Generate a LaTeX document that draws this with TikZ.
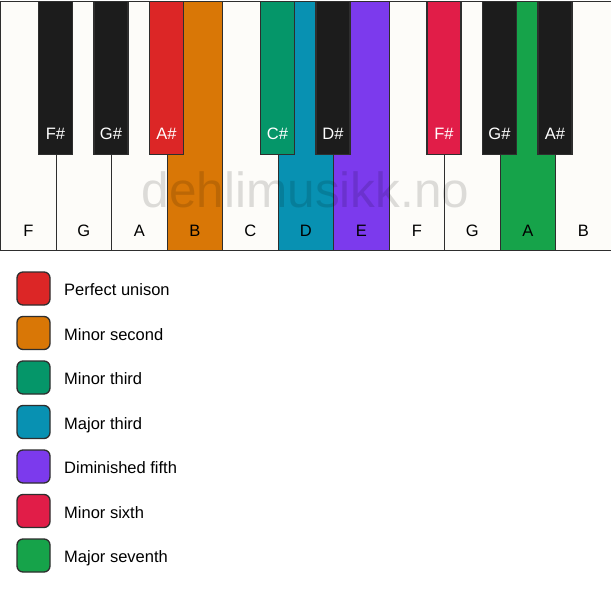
\documentclass[tikz,border=0pt]{standalone}
\usepackage{fontspec}
\setmainfont{Liberation Sans}
\usetikzlibrary{calc}
\definecolor{keywhite}{HTML}{FDFCF9}
\definecolor{keyblack}{HTML}{1C1C1C}
\definecolor{keyline}{HTML}{2E2E2E}
\definecolor{cunison}{HTML}{DC2626}
\definecolor{cminsec}{HTML}{D97706}
\definecolor{cminthird}{HTML}{059669}
\definecolor{cmajthird}{HTML}{0891B2}
\definecolor{cdimfifth}{HTML}{7C3AED}
\definecolor{cminsixth}{HTML}{E11D48}
\definecolor{cmajsev}{HTML}{16A34A}
\tikzset{
  wkey/.style={draw=keyline, line width=1.3pt, fill=keywhite, rectangle, inner sep=0pt,
    minimum width=55.5pt, minimum height=249pt, anchor=north west},
  bkey/.style={draw=keyline, line width=1.3pt, fill=keyblack, rectangle, inner sep=0pt,
    minimum width=34pt, minimum height=153pt, anchor=north},
  wlab/.style={font=\fontsize{16.5}{19}\selectfont, text=black, anchor=base, inner sep=0pt},
  blab/.style={font=\fontsize{16.5}{19}\selectfont, text=white, anchor=base, inner sep=0pt},
  swatch/.style={draw=keyline, line width=1.3pt, rounded corners=6pt, rectangle, inner sep=0pt,
    minimum width=33pt, minimum height=33pt},
  legtext/.style={font=\fontsize{16.5}{19}\selectfont, text=black, anchor=base west, inner sep=0pt},
  wmark/.style={font=\fontsize{49.5}{55}\selectfont, text=black, text opacity=0.13, anchor=base, inner sep=0pt}
}
\begin{document}
\begin{tikzpicture}[x=1pt,y=-1pt]
\useasboundingbox (0,0) rectangle (611,594);
\fill[white] (0,0) rectangle (611,594);
% white keys
\node[wkey] (w1) at (0,0.7) {};
\node[wkey] (w2) at (55.5,0.7) {};
\node[wkey] (w3) at (111,0.7) {};
\node[wkey, fill=cminsec] (w4) at (166.5,0.7) {};
\node[wkey] (w5) at (222,0.7) {};
\node[wkey, fill=cmajthird] (w6) at (277.5,0.7) {};
\node[wkey, fill=cdimfifth] (w7) at (333,0.7) {};
\node[wkey] (w8) at (388.5,0.7) {};
\node[wkey] (w9) at (444,0.7) {};
\node[wkey, fill=cmajsev] (w10) at (499.5,0.7) {};
\node[wkey] (w11) at (555,0.7) {};
% white key labels
\foreach \i/\t in {1/F,2/G,3/A,4/B,5/C,6/D,7/E,8/F,9/G,10/A,11/B}{
  \node[wlab] (wl\i) at ($(w\i.north)+(0,236)$) {\t};
}
% watermark
\node[wmark] (wm) at (305.5,207) {dehlimusikk.no};
% black keys
\node[bkey] (b1) at (55.5,0.7) {};
\node[bkey] (b2) at (111,0.7) {};
\node[bkey, fill=cunison] (b3) at (166.5,0.7) {};
\node[bkey, fill=cminthird] (b4) at (277.5,0.7) {};
\node[bkey] (b5) at (333,0.7) {};
\node[bkey, fill=cminsixth] (b6) at (444,0.7) {};
\node[bkey] (b7) at (499.5,0.7) {};
\node[bkey] (b8) at (555,0.7) {};
\foreach \i/\t in {1/F\#,2/G\#,3/A\#,4/C\#,5/D\#,6/F\#,7/G\#,8/A\#}{
  \node[blab] (bl\i) at ($(b\i.north)+(0,138.5)$) {\t};
}
% legend
\foreach \i/\c/\t in {0/cunison/Perfect unison,1/cminsec/Minor second,2/cminthird/Minor third,3/cmajthird/Major third,4/cdimfifth/Diminished fifth,5/cminsixth/Minor sixth,6/cmajsev/Major seventh}{
  \node[swatch, fill=\c] (s\i) at (33.5,288.5+44.5*\i) {};
  \node[legtext] (t\i) at (64,295.5+44.5*\i) {\t};
}
\end{tikzpicture}
\end{document}
